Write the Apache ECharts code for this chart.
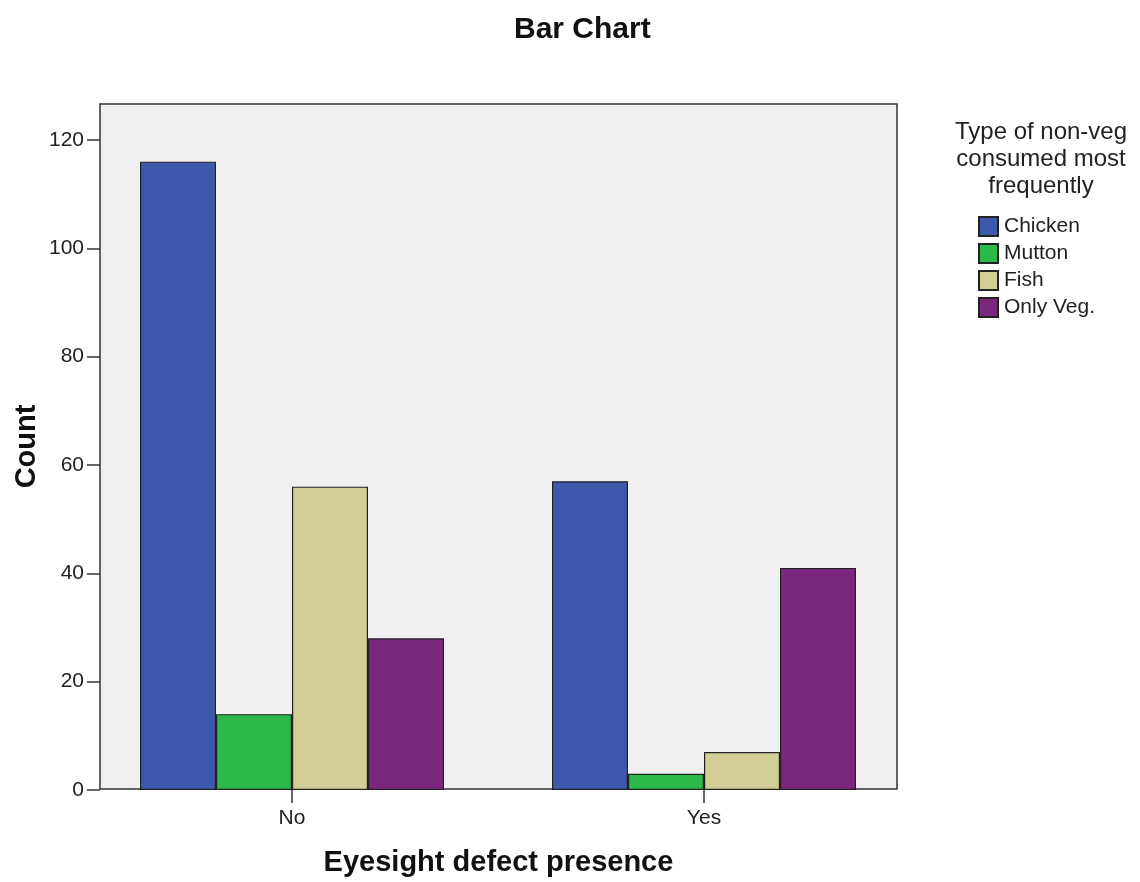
<!DOCTYPE html>
<html>
<head>
<meta charset="utf-8">
<script src="https://cdn.jsdelivr.net/npm/echarts@6/dist/echarts.min.js"></script>
<style>
html,body{margin:0;padding:0;background:#fff;}
#main{width:1140px;height:882px;}
</style>
</head>
<body>
<div id="main"></div>
<script>
const categories = ['No', 'Yes'];
const seriesNames = ['Chicken', 'Mutton', 'Fish', 'Only Veg.'];
const chicken = [116, 57];
const mutton = [14, 3];
const fish = [56, 7];
const onlyVeg = [28, 41];
const yTickValues = [0, 20, 40, 60, 80, 100, 120];
const colors = ['#3E58AC', '#2DB84A', '#D3CE97', '#7B287C'];

const FONT = '"Liberation Sans", Arial, sans-serif';
const chart = echarts.init(document.getElementById('main'), null, {renderer: 'canvas'});
const values = [chicken, mutton, fish, onlyVeg];

const option = {
  animation: false,
  backgroundColor: '#ffffff',
  title: {
    text: 'Bar Chart',
    left: 509, top: 10,
    textStyle: {fontFamily: FONT, fontSize: 30, fontWeight: 'bold', color: '#111'}
  },
  graphic: [{
    type: 'text', left: 950, top: 119,
    style: {
      text: 'Type of non-veg\nconsumed most\nfrequently',
      fill: '#222', font: '24px ' + FONT, lineHeight: 27, textAlign: 'center', width: 182
    }
  }],
  legend: {
    orient: 'vertical', left: 973, top: 211,
    icon: 'rect', itemWidth: 19, itemHeight: 19, itemGap: 6,
    textStyle: {fontFamily: FONT, fontSize: 21, lineHeight: 21, color: '#222', padding: [0,0,0,1]},
    data: seriesNames
  },
  grid: [
    {left: 100, right: 243, top: 104, bottom: 92, show: true, backgroundColor: '#F0F0F0', borderColor: '#333', borderWidth: 1.5},
    {left: 86, right: 230, top: 140, bottom: 92}
  ],
  xAxis: [
    {gridIndex: 0, type: 'value', min: 0, max: 1, show: true,
     axisLine: {show: false}, axisTick: {show: false}, axisLabel: {show: false}, splitLine: {show: false},
     name: 'Eyesight defect presence', nameLocation: 'middle', nameGap: 59,
     nameTextStyle: {fontFamily: FONT, fontSize: 29, fontWeight: 'bold', color: '#111'}},
    {gridIndex: 1, type: 'category', data: categories,
     axisLine: {show: false},
     axisTick: {show: true, alignWithLabel: true, length: 13, lineStyle: {color: '#333', width: 1.5}},
     axisLabel: {fontFamily: FONT, fontSize: 21, color: '#222', margin: 18},
     splitLine: {show: false}}
  ],
  yAxis: [
    {gridIndex: 0, type: 'value', min: 0, max: 1, show: true,
     axisLine: {show: false}, axisTick: {show: false}, axisLabel: {show: false}, splitLine: {show: false},
     name: 'Count', nameLocation: 'middle', nameGap: 59, nameRotate: 90,
     nameTextStyle: {fontFamily: FONT, fontSize: 29, fontWeight: 'bold', color: '#111'}},
    {gridIndex: 1, type: 'value', min: yTickValues[0], max: yTickValues[yTickValues.length - 1], interval: 20, offset: -14,
     axisLine: {show: false},
     axisTick: {show: true, length: 13, lineStyle: {color: '#333', width: 1.5}},
     axisLabel: {fontFamily: FONT, fontSize: 21, color: '#222', margin: 16},
     splitLine: {show: false}}
  ],
  series: seriesNames.map((name, i) => ({
    name: name, type: 'bar', xAxisIndex: 1, yAxisIndex: 1,
    data: values[i], barWidth: 76, barGap: '0%',
    itemStyle: {color: colors[i], borderColor: '#222', borderWidth: 1.2}
  }))
};
chart.setOption(option);
</script>
</body>
</html>
